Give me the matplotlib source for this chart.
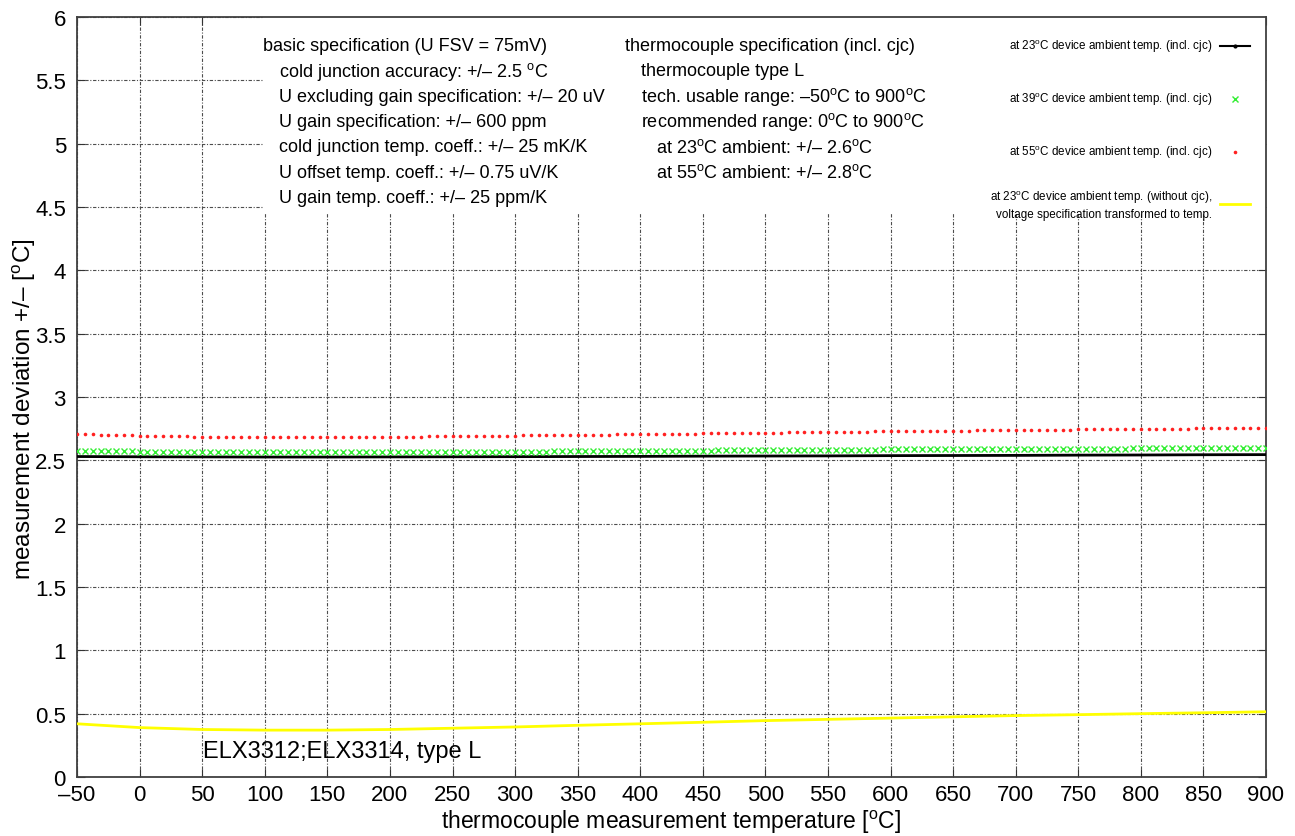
import numpy as np
import matplotlib
matplotlib.use("Agg")
import matplotlib.pyplot as plt
from matplotlib.lines import Line2D
from matplotlib.patches import Rectangle

plt.rcParams['font.family'] = ['Liberation Sans', 'DejaVu Sans']
plt.rcParams['mathtext.fontset'] = 'custom'
plt.rcParams['mathtext.rm'] = 'Liberation Sans'

DEG = r'$^{\mathrm{o}}$C'

# line series, read every 50 degC
temp_line = [-50, 0, 50, 100, 150, 200, 250, 300, 350, 400, 450,
             500, 550, 600, 650, 700, 750, 800, 850, 900]
dev_23 = [2.530, 2.528, 2.527, 2.526, 2.526, 2.527, 2.528, 2.529, 2.530, 2.531,
          2.533, 2.534, 2.535, 2.537, 2.538, 2.539, 2.541, 2.542, 2.544, 2.545]
dev_nocjc = [0.420, 0.390, 0.375, 0.370, 0.370, 0.375, 0.385, 0.395, 0.408, 0.420,
             0.432, 0.445, 0.455, 0.465, 0.475, 0.485, 0.492, 0.500, 0.507, 0.515]

# point series, one marker every 6.25 degC from -50 to 900
temp_pts = np.arange(-50, 900.1, 6.25)
dev_39 = [
    2.575, 2.574, 2.573, 2.573, 2.572, 2.571, 2.570, 2.570,
    2.569, 2.568, 2.568, 2.567, 2.567, 2.566, 2.566, 2.565,
    2.565, 2.565, 2.564, 2.564, 2.564, 2.564, 2.563, 2.563,
    2.563, 2.563, 2.563, 2.563, 2.563, 2.563, 2.563, 2.563,
    2.563, 2.563, 2.563, 2.563, 2.564, 2.564, 2.564, 2.564,
    2.564, 2.564, 2.565, 2.565, 2.565, 2.565, 2.566, 2.566,
    2.566, 2.566, 2.567, 2.567, 2.567, 2.567, 2.568, 2.568,
    2.568, 2.568, 2.569, 2.569, 2.569, 2.570, 2.570, 2.571,
    2.571, 2.571, 2.572, 2.572, 2.572, 2.573, 2.573, 2.574,
    2.574, 2.574, 2.575, 2.575, 2.575, 2.576, 2.576, 2.577,
    2.577, 2.577, 2.578, 2.578, 2.578, 2.579, 2.579, 2.580,
    2.580, 2.580, 2.581, 2.581, 2.581, 2.582, 2.582, 2.583,
    2.583, 2.583, 2.584, 2.584, 2.584, 2.585, 2.585, 2.586,
    2.586, 2.586, 2.586, 2.587, 2.587, 2.587, 2.587, 2.588,
    2.588, 2.588, 2.588, 2.589, 2.589, 2.589, 2.589, 2.590,
    2.590, 2.590, 2.590, 2.591, 2.591, 2.591, 2.591, 2.592,
    2.592, 2.592, 2.592, 2.593, 2.593, 2.593, 2.593, 2.594,
    2.594, 2.594, 2.594, 2.595, 2.595, 2.595, 2.595, 2.596,
    2.596, 2.596, 2.596, 2.597, 2.597, 2.597, 2.597, 2.598,
    2.598]
dev_55 = [
    2.707, 2.705, 2.704, 2.702, 2.701, 2.699, 2.698, 2.696,
    2.695, 2.694, 2.693, 2.692, 2.691, 2.690, 2.689, 2.688,
    2.687, 2.686, 2.686, 2.685, 2.685, 2.684, 2.684, 2.683,
    2.683, 2.683, 2.683, 2.683, 2.683, 2.683, 2.683, 2.683,
    2.683, 2.683, 2.684, 2.684, 2.684, 2.685, 2.685, 2.686,
    2.686, 2.687, 2.687, 2.688, 2.688, 2.689, 2.689, 2.690,
    2.690, 2.691, 2.691, 2.692, 2.693, 2.693, 2.694, 2.694,
    2.695, 2.696, 2.696, 2.697, 2.698, 2.698, 2.699, 2.699,
    2.700, 2.701, 2.702, 2.702, 2.703, 2.704, 2.704, 2.705,
    2.706, 2.707, 2.707, 2.708, 2.709, 2.710, 2.710, 2.711,
    2.712, 2.713, 2.713, 2.714, 2.715, 2.716, 2.716, 2.717,
    2.718, 2.719, 2.719, 2.720, 2.721, 2.722, 2.722, 2.723,
    2.724, 2.725, 2.725, 2.726, 2.727, 2.727, 2.728, 2.728,
    2.729, 2.730, 2.730, 2.731, 2.732, 2.732, 2.733, 2.733,
    2.734, 2.735, 2.735, 2.736, 2.737, 2.737, 2.738, 2.738,
    2.739, 2.740, 2.740, 2.741, 2.742, 2.742, 2.743, 2.743,
    2.744, 2.745, 2.745, 2.746, 2.746, 2.747, 2.747, 2.748,
    2.748, 2.749, 2.749, 2.750, 2.750, 2.751, 2.751, 2.752,
    2.752, 2.753, 2.753, 2.754, 2.754, 2.755, 2.755, 2.756,
    2.756]

basic_spec = [
    'basic specification (U FSV = 75mV)',
    'cold junction accuracy: +/\u2013 2.5 ' + DEG,
    'U excluding gain specification: +/\u2013 20 uV',
    'U gain specification: +/\u2013 600 ppm',
    'cold junction temp. coeff.: +/\u2013 25 mK/K',
    'U offset temp. coeff.: +/\u2013 0.75 uV/K',
    'U gain temp. coeff.: +/\u2013 25 ppm/K',
]
tc_spec = [
    'thermocouple specification (incl. cjc)',
    'thermocouple type L',
    'tech. usable range: \u201350' + DEG + ' to 900' + DEG,
    'recommended range: 0' + DEG + ' to 900' + DEG,
    'at 23' + DEG + ' ambient: +/\u2013 2.6' + DEG,
    'at 55' + DEG + ' ambient: +/\u2013 2.8' + DEG,
]
tc_indent = [0, 12.5, 12.5, 12.5, 25, 25]

legend_labels = [
    'at 23' + DEG + ' device ambient temp. (incl. cjc)',
    'at 39' + DEG + ' device ambient temp. (incl. cjc)',
    'at 55' + DEG + ' device ambient temp. (incl. cjc)',
    'at 23' + DEG + ' device ambient temp. (without cjc),\nvoltage specification transformed to temp.',
]

fig = plt.figure(figsize=(12.95, 8.37), dpi=100)
ax = fig.add_axes([0.0595, 0.0705, 0.9181, 0.908])

ax.set_xlim(-50, 900)
ax.set_ylim(0, 6)
ax.set_xticks(np.arange(-50, 901, 50))
ax.set_yticks(np.arange(0, 6.01, 0.5))
ax.set_xticklabels([str(v).replace('-', '\u2013') for v in range(-50, 901, 50)])
ax.set_yticklabels(['0', '0.5', '1', '1.5', '2', '2.5', '3', '3.5', '4', '4.5', '5', '5.5', '6'])
ax.tick_params(direction='in', top=True, right=True, length=6, labelsize=16,
               labeltop=False, labelright=False, color='0.2')
ax.tick_params(axis='y', pad=8)
ax.tick_params(axis='x', pad=5)
ax.set_axisbelow(True)
ax.grid(True, color='0.3', linestyle=(0, (3, 1.5, 1, 1.5)), linewidth=0.8)
for s in ax.spines.values():
    s.set_linewidth(1.3)
    s.set_color('0.25')

# white area behind the annotation block
ax.add_patch(Rectangle((0.156, 0.742), 0.844, 0.258, transform=ax.transAxes,
                       facecolor='white', edgecolor='none', zorder=1))

ax.plot(temp_line, dev_23, color='black', lw=2, zorder=3)
ax.plot(temp_pts, dev_39, ls='none', marker='x', ms=5, mew=1, color='#33ee33', zorder=3)
ax.plot(temp_pts, dev_55, ls='none', marker='o', ms=2.6, mew=0, color='#ff2020', zorder=3)
ax.plot(temp_line, dev_nocjc, color='#ffff00', lw=2, zorder=3)

ax.set_xlabel('thermocouple measurement temperature [' + DEG + ']', fontsize=16.5, labelpad=2)
ax.set_ylabel('measurement deviation +/\u2013 [' + DEG + ']', fontsize=17.5)
ax.yaxis.set_label_coords(-0.033, 0.485)

y0, dy = 5.775, 0.2
for i, line in enumerate(basic_spec):
    x = 98.6 if i == 0 else 111.4
    ax.text(x, y0 - i * dy, line, fontsize=13, va='center', ha='left', zorder=4)
for i, line in enumerate(tc_spec):
    ax.text(387.8 + tc_indent[i], y0 - i * dy, line, fontsize=13, va='center', ha='left', zorder=4)

ax.text(50.7, 0.205, 'ELX3312;ELX3314, type L', fontsize=17, va='center', ha='left', zorder=4)

# key, drawn in figure pixels like the original gnuplot key
W, H = 1295.0, 837.0
key_y = [47, 100, 153, 205]
key_styles = [
    dict(color='black', lw=1.5, marker='o', ms=2),
    dict(ls='none', marker='x', ms=5, mew=1, color='#33ee33'),
    dict(ls='none', marker='o', ms=2.6, mew=0, color='#ff2020'),
    dict(color='#ffff00', lw=2),
]
for yk, lab, st in zip(key_y, legend_labels, key_styles):
    fy = 1 - yk / H
    fig.text(1212 / W, fy, lab, fontsize=8.4, ha='right', va='center', multialignment='right',
             linespacing=1.3)
    if st.get('ls') == 'none':
        fig.add_artist(Line2D([1235 / W], [fy], transform=fig.transFigure, **st))
    else:
        mk = st.pop('marker', None)
        fig.add_artist(Line2D([1220 / W, 1250 / W], [fy, fy], transform=fig.transFigure, **st))
        if mk:
            fig.add_artist(Line2D([1235 / W], [fy], transform=fig.transFigure, marker=mk,
                                  ms=2, color=st['color'], ls='none'))

fig.savefig('out.png', dpi=100)
